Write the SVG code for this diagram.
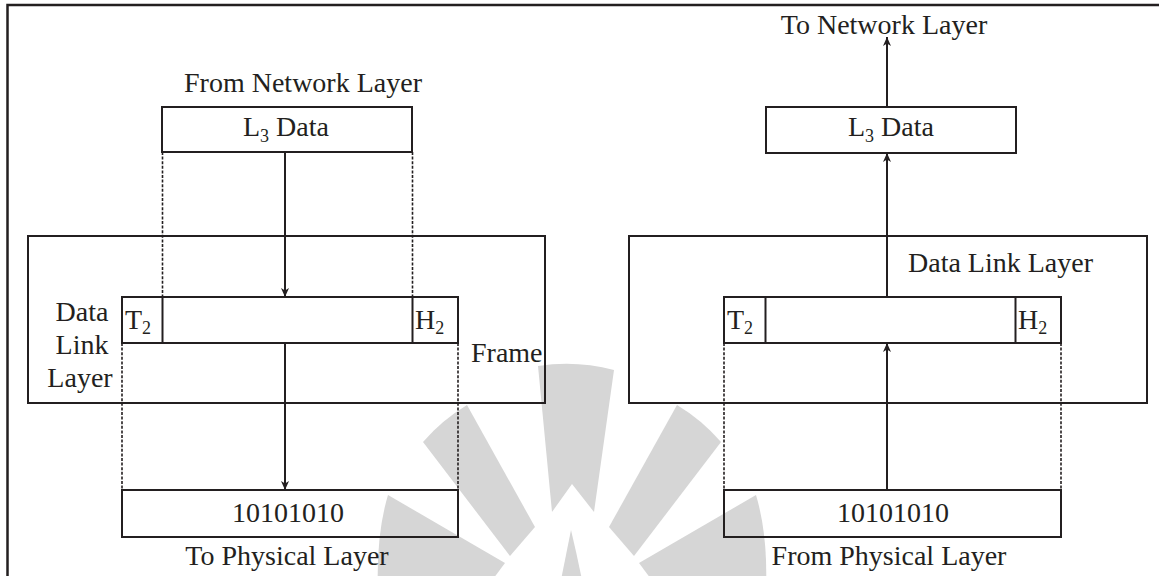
<svg xmlns="http://www.w3.org/2000/svg" width="1159" height="576" viewBox="0 0 1159 576">
  <style>
    .t { font-family: "Liberation Serif", "Times New Roman", serif; font-size: 28px; fill: #231f20; }
    .sub { font-size: 18px; }
    .box { fill: none; stroke: #231f20; stroke-width: 2; }
    .solid { fill: none; stroke: #231f20; stroke-width: 2; }
    .dot { fill: none; stroke: #231f20; stroke-width: 1.6; stroke-dasharray: 3 1.6; }
    .wm { fill: #d6d6d6; }
  </style>
  <defs>
    <marker id="arrow" markerUnits="userSpaceOnUse" markerWidth="10" markerHeight="10" refX="9" refY="5" orient="auto">
      <path d="M0,1 L9,5 L0,9 L2.5,5 Z" fill="#231f20"/>
    </marker>
  </defs>

  <rect width="1159" height="576" fill="#ffffff"/>

  <!-- background emblem -->
  <g id="emblem">
    <path class="wm" d="M423,442 Q442,420 467,405 L535,527 L510,556 Z"/>
    <path class="wm" d="M721,442 Q702,420 677,405 L609,527 L634,556 Z"/>
    <path class="wm" d="M388,495 L505,563 L470,610 L378,590 Q376,535 388,495 Z"/>
    <path class="wm" d="M756,495 L639,563 L674,610 L766,590 Q768,535 756,495 Z"/>
    <path class="wm" d="M538,366 Q576,360 614,370 L594,512 L572,484 L552,512 Z"/>
    <path class="wm" d="M571,530 Q566,555 561,580 L582,580 Q577,555 571,530 Z"/>
  </g>

  <!-- page frame -->
  <path d="M7.5,576 V5 H1159" fill="none" stroke="#231f20" stroke-width="2.5"/>

  <!-- sending side -->
  <g id="send-network-label">
    <text class="t" x="303" y="92" text-anchor="middle">From Network Layer</text>
  </g>
  <g id="send-l3">
    <rect class="box" x="162" y="107" width="250" height="45"/>
    <text class="t" x="243" y="136">L<tspan class="sub" dy="6">3</tspan><tspan dy="-6"> Data</tspan></text>
  </g>
  <g id="send-dll">
    <rect class="box" x="28" y="236" width="517" height="167"/>
    <text class="t" x="82" y="321" text-anchor="middle">Data</text>
    <text class="t" x="82" y="354" text-anchor="middle">Link</text>
    <text class="t" x="80" y="387" text-anchor="middle">Layer</text>
    <text class="t" x="471" y="362">Frame</text>
  </g>
  <g id="send-frame">
    <rect class="box" x="122" y="297" width="336" height="46"/>
    <line class="solid" x1="162.5" y1="297" x2="162.5" y2="343"/>
    <line class="solid" x1="412.5" y1="297" x2="412.5" y2="343"/>
    <text class="t" x="125" y="329">T<tspan class="sub" dy="5">2</tspan></text>
    <text class="t" x="415" y="329">H<tspan class="sub" dy="5">2</tspan></text>
  </g>
  <g id="send-bits">
    <rect class="box" x="122" y="490" width="336" height="47"/>
    <text class="t" x="288" y="522" text-anchor="middle">10101010</text>
  </g>
  <g id="send-physical-label">
    <text class="t" x="287" y="565" text-anchor="middle">To Physical Layer</text>
  </g>

  <!-- receiving side -->
  <g id="recv-network-label">
    <text class="t" x="884" y="34" text-anchor="middle">To Network Layer</text>
  </g>
  <g id="recv-l3">
    <rect class="box" x="766" y="107" width="250" height="46"/>
    <text class="t" x="848" y="136">L<tspan class="sub" dy="6">3</tspan><tspan dy="-6"> Data</tspan></text>
  </g>
  <g id="recv-dll">
    <rect class="box" x="629" y="236" width="518" height="167"/>
    <text class="t" x="908" y="272">Data Link Layer</text>
  </g>
  <g id="recv-frame">
    <rect class="box" x="724" y="297" width="337" height="46"/>
    <line class="solid" x1="765.5" y1="297" x2="765.5" y2="343"/>
    <line class="solid" x1="1015.5" y1="297" x2="1015.5" y2="343"/>
    <text class="t" x="727" y="329">T<tspan class="sub" dy="5">2</tspan></text>
    <text class="t" x="1018" y="329">H<tspan class="sub" dy="5">2</tspan></text>
  </g>
  <g id="recv-bits">
    <rect class="box" x="724" y="490" width="337" height="47"/>
    <text class="t" x="893" y="522" text-anchor="middle">10101010</text>
  </g>
  <g id="recv-physical-label">
    <text class="t" x="889" y="565" text-anchor="middle">From Physical Layer</text>
  </g>

  <!-- connectors -->
  <g id="connectors">
    <line class="solid" x1="285" y1="152" x2="285" y2="297" marker-end="url(#arrow)"/>
    <line class="solid" x1="285" y1="343" x2="285" y2="490" marker-end="url(#arrow)"/>
    <line class="dot" x1="162.5" y1="152" x2="162.5" y2="297"/>
    <line class="dot" x1="412.5" y1="152" x2="412.5" y2="297"/>
    <line class="dot" x1="122" y1="343" x2="122" y2="490"/>
    <line class="dot" x1="458" y1="343" x2="458" y2="490"/>

    <line class="solid" x1="887" y1="490" x2="887" y2="343" marker-end="url(#arrow)"/>
    <line class="solid" x1="887" y1="297" x2="887" y2="153" marker-end="url(#arrow)"/>
    <line class="solid" x1="887" y1="107" x2="887" y2="37" marker-end="url(#arrow)"/>
    <line class="dot" x1="724" y1="343" x2="724" y2="490"/>
    <line class="dot" x1="1061" y1="343" x2="1061" y2="490"/>
  </g>
</svg>
